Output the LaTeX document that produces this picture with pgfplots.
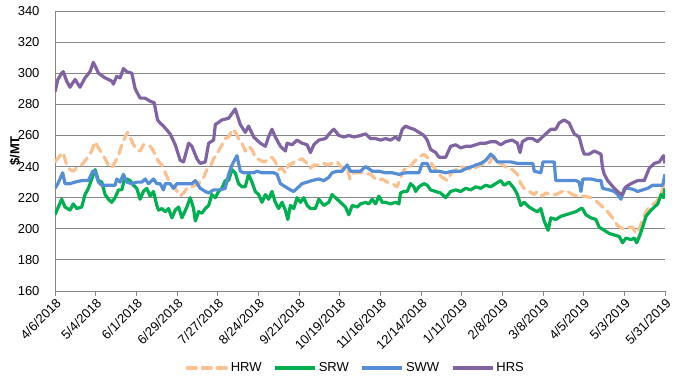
\documentclass[border=0pt]{standalone}
\usepackage{pgfplots}
\pgfplotsset{compat=1.18}
\usepackage{fontspec}
\setmainfont{Liberation Sans}
\definecolor{hrw}{RGB}{250,192,144}
\definecolor{srw}{RGB}{0,176,80}
\definecolor{sww}{RGB}{85,142,213}
\definecolor{hrs}{RGB}{128,100,162}
\definecolor{gridgray}{RGB}{134,134,134}
\begin{document}
\begin{tikzpicture}
\useasboundingbox (-55bp,-98bp) rectangle (625bp,291bp);
\begin{axis}[
 at={(0,0)}, anchor=south west,
 scale only axis, width=610bp, height=280bp,
 xmin=0, xmax=420, ymin=160, ymax=340,
 ytick={160,180,...,340},
 xtick={0,28,...,420},
 xticklabels={4/6/2018,5/4/2018,6/1/2018,6/29/2018,7/27/2018,8/24/2018,9/21/2018,10/19/2018,11/16/2018,12/14/2018,1/11/2019,2/8/2019,3/8/2019,4/5/2019,5/3/2019,5/31/2019},
 axis x line*=bottom, axis y line*=left,
 axis line style={draw=gridgray, line width=0.9bp, -},
 ymajorgrids, major grid style={draw=gridgray, line width=0.9bp},
 tick align=outside,
 major tick length=5bp,
 ytick style={draw=none},
 xtick style={draw=gridgray, line width=0.9bp},
 tick label style={font=\fontsize{13bp}{15bp}\selectfont},
 /pgf/number format/assume math mode=true,
 yticklabel style={xshift=-7bp},
 xticklabel style={rotate=45, anchor=north east, inner sep=1bp},
 ylabel={\textbf{\$/MT}},
 every axis y label/.style={at={(axis description cs:0,0.5)}, xshift=-40bp, rotate=90, anchor=center, font=\fontsize{13bp}{15bp}\selectfont},
 legend columns=4,
 legend style={at={(axis description cs:0.493,-0.275)}, anchor=center, draw=none, fill=none, font=\fontsize{13bp}{15bp}\selectfont, /tikz/every even column/.append style={column sep=10bp}},
 legend image code/.code={\draw[#1] (0bp,0bp) -- (40bp,0bp);},
]
\addplot[hrw, line width=3.2bp, line cap=round, line join=round, dash pattern=on 9bp off 6bp, mark=none] coordinates {
(0,243) (3.4,247) (5.7,249) (8,241) (10.3,238) (12.6,237) (14.9,239) (18.4,241) (21.8,245) (25.3,250) (27.6,256) (29.9,252) (33.3,247) (36.8,241) (39,239) (41.4,243) (43.7,247) (46,254) (48.3,259) (49.9,262) (51.7,259) (54,254) (56.3,251) (58.6,250) (60.9,254) (63.2,254) (65.5,253) (67.8,250) (70.1,245) (72.4,242) (73.6,241) (75.9,236) (79.3,229) (82.8,226) (86.2,221) (88.5,223) (90.8,226) (94.3,227) (98.9,229) (102.3,233) (104.6,238) (106.9,240) (109.2,245) (112.6,250) (115,254) (117.2,258) (119.5,259) (122.3,264) (124.1,262) (126.4,258) (128.7,255) (131,250) (133.3,253) (135.6,251) (137.9,246) (141.4,244) (143.7,243) (146,244) (149.4,246) (151.7,243) (154,238) (156.3,239) (158.6,236) (160.9,241) (163.2,242) (166.7,244) (170.1,245) (173.6,242) (175.9,239) (178.2,241) (181.6,241) (185.1,242) (187.4,241) (190.8,242) (194.3,243) (197.7,239) (201.2,239) (203,232) (205.8,236) (209.2,236) (212.6,236) (217.3,235) (221.8,231) (225.3,232) (228.7,230) (232.2,229) (235.6,227) (237.9,233) (240.2,238) (243.7,239) (247.1,243) (250.6,246) (254,248) (256.3,246) (258.6,243) (263.2,236) (266.7,233) (270.1,231) (272.4,235) (275.9,238) (279.3,240) (282.8,239) (287.4,238) (290.8,240) (295.4,242) (298.9,242) (301.1,246) (303.4,243) (306.9,242) (311.5,239) (314.9,238) (318.4,235) (320.7,229) (323,226) (326.4,224) (329.9,222) (332.2,224) (335.6,221) (337.9,223) (341.4,222) (344.8,222) (349.4,224) (352.9,224) (356.3,222) (359.8,221) (364.4,221) (369,220) (373.6,217) (377,214) (380.5,211) (383.9,207) (387.4,202) (390.8,200) (394.3,201) (397.7,201) (400,197) (402.3,200) (404.6,206) (406.9,211) (410.4,215) (413.8,217) (417.3,222) (419.6,230) (420,232)
};
\addlegendentry{HRW}
\addplot[srw, line width=3.2bp, line join=round, mark=none] coordinates {
(0,209) (2.3,214) (4.6,219) (6.9,214) (10.3,212) (12.6,216) (14.9,213) (18.4,214) (20.7,222) (23,226) (25.3,232) (27.6,238) (29.9,231) (32.2,230) (34.5,222) (36.8,219) (39,217) (41.4,220) (43.7,225) (46,225) (47.6,231) (49.4,232) (51.7,231) (54,228) (56.3,226) (58.6,219) (60.9,224) (63.2,226) (65.5,221) (67.8,224) (70.1,215) (71.3,212) (73.6,213) (75.9,211) (78.2,213) (80.5,207) (82.8,212) (85.1,214) (87.4,207) (90.8,214) (93.1,220) (95.4,213) (96.6,205) (98.9,211) (101.2,210) (103.5,213) (105.8,215) (108,222) (110.4,220) (112.6,224) (114.9,226) (117.2,231) (119.5,231) (121.9,238) (124.1,236) (126.4,229) (128.7,227) (131,227) (133.3,235) (135.6,230) (137.9,224) (140.2,222) (142.5,217) (144.9,222) (147.1,219) (149.4,224) (151.7,217) (154,213) (156.3,217) (158.6,212) (160.3,206) (162.1,215) (164.4,213) (166.7,220) (169,217) (171.3,220) (173.6,215) (175.9,213) (179.3,213) (181.6,219) (185.1,215) (188.5,217) (190.8,222) (193.1,220) (196.6,217) (200,214) (202.3,209) (204.6,215) (208.1,214) (210.4,216) (213.8,217) (216.1,216) (218.4,219) (220.7,216) (223,221) (225.3,217) (227.6,217) (231,216) (234.5,217) (236.8,216) (237.9,223) (240.2,224) (242.5,224) (244.8,229) (247.1,227) (248.3,224) (250.6,227) (254,229) (256.3,228) (258.6,225) (262.1,224) (265.5,223) (269,220) (272.4,224) (275.9,225) (279.3,224) (282.8,226) (286.2,225) (289.7,227) (293.1,226) (296.6,228) (300,227) (303.4,229) (306.9,231) (309.2,228) (312.6,230) (316.1,226) (318.4,222) (320.7,215) (323,217) (326.4,214) (329.9,212) (332.2,211) (334.5,213) (336.8,205) (339.5,199) (341.4,207) (344.8,206) (348.3,208) (351.7,209) (355.2,210) (358.6,211) (362.1,213) (363.2,213) (365.5,209) (369,207) (372.4,206) (374.7,201) (378.2,199) (381.6,197) (385.1,196) (388.5,195) (390.8,191) (393.1,194) (396.6,193) (398.9,194) (400.5,191) (402.3,195) (404.6,201) (406.9,208) (410.4,212) (412.7,214) (415,216) (417.3,222) (419,220) (420,226)
};
\addlegendentry{SRW}
\addplot[sww, line width=3.2bp, line join=round, mark=none] coordinates {
(0,226) (2,229) (3.4,232) (5.3,236) (6.9,229) (10.3,229) (13.8,230) (18.4,231) (23,231) (26,237) (27.6,237) (29.9,230) (32.2,228) (36.8,228) (41.4,228) (42.5,232) (44.8,230) (47.1,235) (49.4,230) (52.9,229) (56.3,230) (59.8,230) (62.1,232) (64.4,229) (67.8,232) (70.1,229) (72.4,229) (74.7,225) (75.9,229) (79.3,229) (81.6,226) (83.9,229) (89.7,229) (94.3,229) (96.6,231) (100,226) (103.5,224) (105.8,223) (109.2,225) (113.8,225) (117.2,226) (119.5,235) (121.9,241) (124.1,245) (125.3,247) (127.6,237) (129.9,236) (133.3,236) (136.8,236) (139.1,237) (142.5,236) (146,236) (150.6,236) (152.9,235) (155.2,229) (158.6,227) (162.1,225) (164.4,224) (166.7,226) (170.1,229) (173.6,230) (177,231) (181.6,232) (185.1,231) (188.5,233) (190.8,236) (194.3,237) (197.7,237) (201.2,241) (203.5,237) (206.9,237) (210.4,237) (213.8,240) (217,238) (218.4,237) (223,237) (227.6,236) (232.2,236) (236.8,235) (241.4,236) (246,236) (250.6,236) (252.9,242) (256.3,242) (258.6,237) (264.4,237) (269,236) (273.6,237) (279.3,237) (283.9,239) (287.4,240) (289.7,241) (293.1,242) (296.6,244) (300,248) (302.3,246) (304.6,243) (309.2,243) (313.8,243) (318.4,242) (321.8,242) (326.4,242) (329,242) (330,237) (334.5,236) (336,243) (341.4,243) (343.7,243) (344.8,231) (349.4,231) (355.2,231) (358.6,231) (360.9,230) (362.1,224) (363.5,232) (369,232) (373.6,231) (375.9,231) (377,226) (381.6,225) (385.1,224) (387.4,222) (389.7,219) (392,226) (395.4,226) (398.9,225) (401.2,224) (404.6,225) (408.1,226) (411.5,228) (415,228) (418.4,228) (420,235)
};
\addlegendentry{SWW}
\addplot[hrs, line width=3.2bp, line join=round, mark=none] coordinates {
(0,288) (2,296) (4.6,300) (5.7,301) (8,295) (10.3,291) (13.8,296) (17.2,291) (20.7,297) (24.1,301) (26.4,307) (27.5,305) (29.9,300) (34.5,297) (39,295) (40.2,293) (42.5,298) (44.8,297) (47.1,303) (49.4,301) (52.9,300) (55.2,290) (58.6,284) (62,284) (65.5,282) (68.3,281) (70.6,270) (72.4,268) (74.7,266) (79.3,261) (82.8,254) (86.2,244) (88.5,243) (92,255) (94.3,253) (97.7,245) (100,242) (103.5,243) (105.8,255) (109.2,257) (110.4,267) (115,270) (119.5,271) (124.1,277) (127.6,267) (131,262) (133.3,266) (136.8,259) (141.4,255) (144.9,253) (147,259) (149.4,264) (151.7,259) (155.2,253) (158.6,250) (159.8,255) (163.2,254) (166.7,257) (170.1,255) (173.6,254) (175.9,249) (178.2,254) (181.6,257) (186.2,258) (189.7,262) (192,264) (195.4,260) (198.9,259) (202.3,260) (205.8,259) (210.4,260) (213.8,261) (217.3,258) (220.7,258) (224.1,257) (227.6,258) (231,257) (234.5,259) (236.8,257) (239.1,264) (241.4,266) (243.7,265) (247.1,264) (250.6,262) (254,260) (256.3,257) (258.6,251) (262.1,249) (264.4,246) (269,246) (272.4,253) (275.9,254) (279.3,252) (282.8,253) (286.2,253) (289.7,254) (293.1,255) (296.6,255) (300,256) (303.4,256) (306.9,254) (310.3,256) (314.9,257) (318.4,255) (320.2,249) (321.8,256) (325.3,258) (328.7,258) (332.2,256) (335.6,259) (339.1,262) (341.4,264) (344.8,264) (347.1,268) (350.6,270) (354,268) (357.5,261) (360.9,259) (363.2,251) (364.4,248) (367.8,248) (371.3,250) (375.9,248) (377,239) (378.2,235) (380.5,231) (385.1,226) (388.5,223) (390.8,222) (393.1,227) (396.6,229) (401.2,231) (405.7,231) (409.2,239) (412.6,242) (416.1,243) (419,247) (420,242)
};
\addlegendentry{HRS}
\end{axis}
\end{tikzpicture}
\end{document}
